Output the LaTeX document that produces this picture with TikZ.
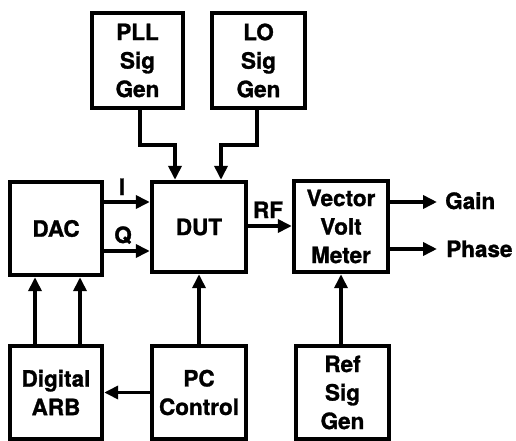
\documentclass[tikz,border=0pt]{standalone}
\usepackage{fontspec}
\setmainfont{TeX Gyre Heros}[BoldFeatures={FakeBold=1.2}]
\usetikzlibrary{arrows.meta}
\tikzset{
  blk/.style={draw, line width=4.4pt, rectangle, inner sep=0pt, align=center,
    font=\fontsize{22.5}{28.5}\selectfont\bfseries},
  conn/.style={line width=3.6pt, -{Triangle[length=14pt,width=13pt]}},
  lbl/.style={inner sep=0pt, font=\fontsize{22.5}{28.5}\selectfont\bfseries}
}
\begin{document}
\begin{tikzpicture}[x=1pt,y=-1pt]
\useasboundingbox (0,0) rectangle (516,441);
% boxes
\node[blk, minimum width=91pt, minimum height=95pt] (pll) at (137.5,60.5) {PLL\\Sig\\Gen};
\node[blk, minimum width=93pt, minimum height=95pt] (lo) at (258.5,60.5) {LO\\Sig\\Gen};
\node[blk, minimum width=92pt, minimum height=93pt] (dac) at (56,228.5) {DAC};
\node[blk, minimum width=94pt, minimum height=90pt] (dut) at (199,227) {DUT};
\node[blk, minimum width=94pt, minimum height=91pt] (vvm) at (341,226.5) {Vector\\Volt\\Meter};
\node[blk, minimum width=92pt, minimum height=93pt] (arb) at (56,392.5) {Digital\\ARB};
\node[blk, minimum width=94pt, minimum height=93pt] (pc) at (199,392.5) {PC\\Control};
\node[blk, minimum width=93pt, minimum height=93pt] (ref) at (342.5,392.5) {Ref\\Sig\\Gen};
% free ends
\coordinate (gainend) at (437,202);
\coordinate (phaseend) at (437,249);
% connectors
\draw[conn] ([xshift=2.5pt]pll.south) -- ++(0,35) -| ([xshift=-24pt]dut.north);
\draw[conn] ([xshift=-1.5pt]lo.south) -- ++(0,35) -| ([xshift=22pt]dut.north);
\draw[conn] (dac.east |- 0,202) -- (dut.west |- 0,202);
\draw[conn] (dac.east |- 0,251) -- (dut.west |- 0,251);
\draw[conn] (dut.east |- 0,226) -- (vvm.west |- 0,226);
\draw[conn] (vvm.east |- gainend) -- (gainend);
\draw[conn] (vvm.east |- phaseend) -- (phaseend);
\draw[conn] ([xshift=-21pt]arb.north) -- ([xshift=-21pt]dac.south);
\draw[conn] ([xshift=24pt]arb.north) -- ([xshift=24pt]dac.south);
\draw[conn] (pc.north) -- (dut.south);
\draw[conn] (pc.west) -- (arb.east);
\draw[conn] (vvm.south |- ref.north) -- (vvm.south);
% labels
\node[lbl, anchor=base] (li) at (122,195) {I};
\node[lbl, anchor=base] (lq) at (123,243) {Q};
\node[lbl, anchor=base] (lrf) at (268,218) {RF};
\node[lbl, anchor=base west] (lgain) at (445,209) {Gain};
\node[lbl, anchor=base west] (lphase) at (446,257) {Phase};
\end{tikzpicture}
\end{document}
